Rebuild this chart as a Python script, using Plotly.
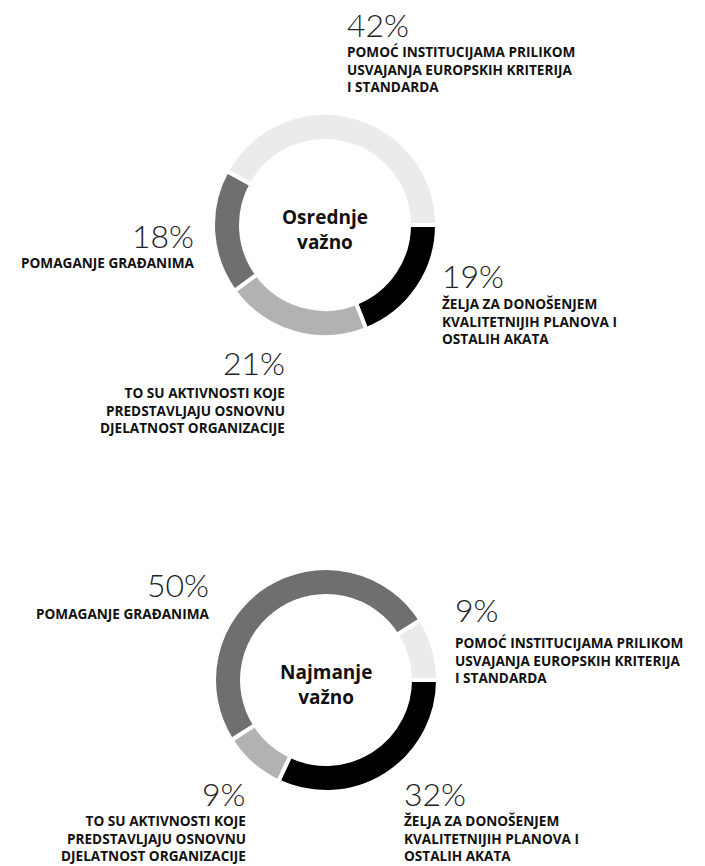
import plotly.graph_objects as go

W, H = 705, 866

categories = [
    "ŽELJA ZA DONOŠENJEM<br>KVALITETNIJIH PLANOVA I<br>OSTALIH AKATA",
    "TO SU AKTIVNOSTI KOJE<br>PREDSTAVLJAJU OSNOVNU<br>DJELATNOST ORGANIZACIJE",
    "POMAGANJE GRAĐANIMA",
    "POMOĆ INSTITUCIJAMA PRILIKOM<br>USVAJANJA EUROPSKIH KRITERIJA<br>I STANDARDA",
]
values_top = [19, 21, 18, 42]
values_bottom = [32, 9, 50, 9]
colors = ["#000000", "#b2b2b2", "#6f6f6f", "#ebebeb"]
titles = ["Osrednje<br>važno", "Najmanje<br>važno"]

# layout positions (window pixels) for label groups:
# (x, pct_center_y, label_block_center_y, side)
label_pos_top = [
    (440, 275, 321, "left"),
    (287, 362, 410, "right"),
    (196, 235, 262, "right"),
    (345, 24, 69, "left"),
]
label_pos_bottom = [
    (402, 793, 838, "left"),
    (248, 793, 838, "right"),
    (211, 584, 613, "right"),
    (453, 609, 660, "left"),
]
centers = [(325, 225), (326, 680)]
R = 112


def px(x):
    return x / W


def py(y):
    return 1 - y / H


fig = go.Figure()
annotations = []
for (cx, cy), vals, lpos, title in zip(centers, [values_top, values_bottom],
                                       [label_pos_top, label_pos_bottom], titles):
    fig.add_trace(go.Pie(
        labels=[c.replace("<br>", " ") for c in categories],
        values=vals,
        sort=False,
        direction="clockwise",
        rotation=90,
        hole=0.75,
        marker=dict(colors=colors, line=dict(color="white", width=4)),
        textinfo="none",
        hoverinfo="label+percent",
        showlegend=False,
        domain=dict(x=[px(cx - R), px(cx + R)], y=[py(cy + R), py(cy - R)]),
    ))
    annotations.append(dict(
        x=px(cx), y=py(cy + 4), xref="paper", yref="paper",
        text=title, showarrow=False, xanchor="center", yanchor="middle",
        font=dict(family="Open Sans", size=19, color="#111111", weight="bold"),
    ))
    for v, cat, (x, ypct, ylab, side) in zip(vals, categories, lpos):
        annotations.append(dict(
            x=px(x), y=py(ypct), xref="paper", yref="paper",
            text=f"{v}%", showarrow=False, xanchor=side, yanchor="middle",
            font=dict(family="Lato", size=32, color="#222222", weight=300),
        ))
        annotations.append(dict(
            x=px(x), y=py(ylab), xref="paper", yref="paper",
            text=cat, showarrow=False, xanchor=side, yanchor="middle",
            align=side,
            font=dict(family="Open Sans", size=13.6, color="#111111", weight="bold"),
        ))

fig.update_layout(
    width=W, height=H,
    margin=dict(l=0, r=0, t=0, b=0),
    paper_bgcolor="white", plot_bgcolor="white",
    annotations=annotations,
)
fig.write_html(
    "out.html",
    config={"displayModeBar": False},
    post_script="document.body.style.margin='0';document.body.style.overflow='hidden';",
)
